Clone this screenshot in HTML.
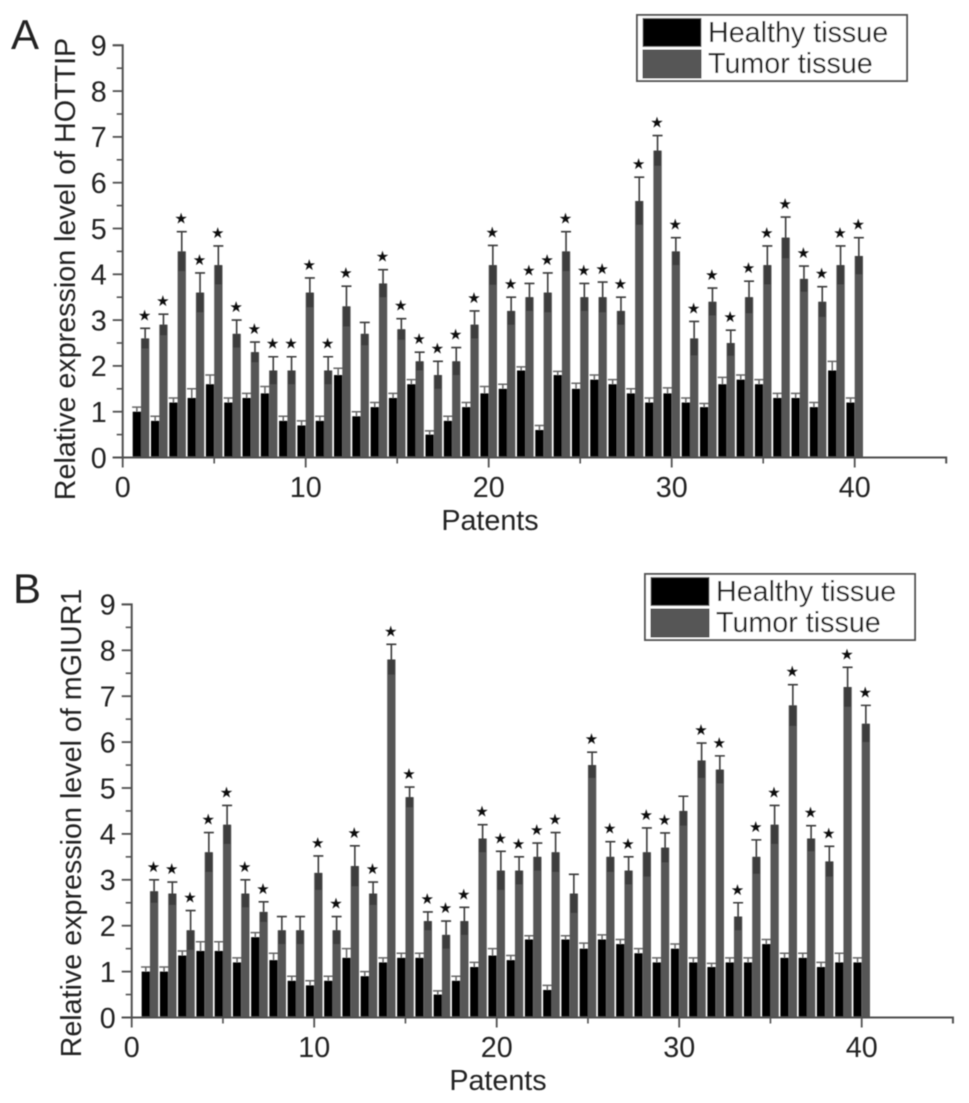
<!DOCTYPE html>
<html>
<head>
<meta charset="utf-8">
<title>Relative expression of HOTTIP and mGIUR1</title>
<style>
html,body{margin:0;padding:0;background:#fff;}
svg{display:block;}
text{font-family:"Liberation Sans",sans-serif;fill:#222;}
</style>
</head>
<body>
<svg id="figure" width="969" height="1103" viewBox="0 0 969 1103" xmlns="http://www.w3.org/2000/svg">
<defs><filter id="soft" x="-2%" y="-2%" width="104%" height="104%"><feGaussianBlur stdDeviation="0.65"/></filter></defs>
<rect width="969" height="1103" fill="#fff"/>
<g id="root" filter="url(#soft)"></g>
</svg>
<script>
const xTickLabels = [0, 10, 20, 30, 40];
const yTickLabels = [0, 1, 2, 3, 4, 5, 6, 7, 8, 9];
const patients = [1,2,3,4,5,6,7,8,9,10,11,12,13,14,15,16,17,18,19,20,21,22,23,24,25,26,27,28,29,30,31,32,33,34,35,36,37,38,39,40];

const healthyA = [1.0,0.8,1.2,1.3,1.6,1.2,1.3,1.4,0.8,0.7,0.8,1.8,0.9,1.1,1.3,1.6,0.5,0.8,1.1,1.4,1.5,1.9,0.6,1.8,1.5,1.7,1.6,1.4,1.2,1.4,1.2,1.1,1.6,1.7,1.6,1.3,1.3,1.1,1.9,1.2];
const healthyErrA = [0.1,0.1,0.1,0.2,0.2,0.1,0.1,0.15,0.1,0.1,0.1,0.15,0.1,0.1,0.1,0.1,0.08,0.1,0.1,0.15,0.1,0.08,0.1,0.08,0.12,0.1,0.1,0.1,0.1,0.12,0.1,0.08,0.15,0.1,0.1,0.1,0.1,0.1,0.2,0.1];
const tumorA = [2.6,2.9,4.5,3.6,4.2,2.7,2.3,1.9,1.9,3.6,1.9,3.3,2.7,3.8,2.8,2.1,1.8,2.1,2.9,4.2,3.2,3.5,3.6,4.5,3.5,3.5,3.2,5.6,6.7,4.5,2.6,3.4,2.5,3.5,4.2,4.8,3.9,3.4,4.2,4.4];
const tumorErrA = [0.22,0.23,0.43,0.43,0.42,0.3,0.22,0.3,0.3,0.32,0.3,0.44,0.25,0.3,0.23,0.2,0.3,0.3,0.3,0.43,0.3,0.3,0.43,0.43,0.3,0.33,0.3,0.52,0.33,0.3,0.37,0.3,0.28,0.35,0.42,0.45,0.28,0.33,0.42,0.4];
const starsA = [1,2,3,4,5,6,7,8,9,10,11,12,14,15,16,17,18,19,20,21,22,23,24,25,26,27,28,29,30,31,32,33,34,35,36,37,38,39,40];

const healthyB = [1.0,1.0,1.35,1.45,1.45,1.2,1.75,1.25,0.8,0.7,0.8,1.3,0.9,1.2,1.3,1.3,0.5,0.8,1.1,1.35,1.25,1.7,0.6,1.7,1.5,1.7,1.6,1.4,1.2,1.5,1.2,1.1,1.2,1.2,1.6,1.3,1.3,1.1,1.2,1.2];
const healthyErrB = [0.1,0.1,0.1,0.2,0.2,0.1,0.1,0.15,0.1,0.1,0.1,0.2,0.1,0.1,0.1,0.1,0.08,0.1,0.1,0.15,0.1,0.08,0.1,0.08,0.12,0.1,0.1,0.1,0.1,0.1,0.1,0.08,0.1,0.1,0.1,0.1,0.1,0.1,0.2,0.1];
const tumorB = [2.75,2.7,1.9,3.6,4.2,2.7,2.3,1.9,1.9,3.15,1.9,3.3,2.7,7.8,4.8,2.1,1.8,2.1,3.9,3.2,3.2,3.5,3.6,2.7,5.5,3.5,3.2,3.6,3.7,4.5,5.6,5.4,2.2,3.5,4.2,6.8,3.9,3.4,7.2,6.4];
const tumorErrB = [0.25,0.25,0.43,0.43,0.42,0.3,0.22,0.3,0.3,0.37,0.3,0.44,0.25,0.33,0.22,0.2,0.3,0.3,0.3,0.42,0.3,0.3,0.43,0.42,0.28,0.33,0.3,0.53,0.32,0.32,0.38,0.3,0.3,0.37,0.42,0.45,0.28,0.33,0.43,0.4];
const starsB = [1,2,3,4,5,6,7,10,11,12,13,14,15,16,17,18,19,20,21,22,23,25,26,27,28,29,31,32,33,34,35,36,37,38,39,40];

const legendLabels = ["Healthy tissue", "Tumor tissue"];

const NS = "http://www.w3.org/2000/svg";
const root = document.getElementById("root");
const AXIS = "#505050";
const FONT = 28.7;

function make(tag, attrs, parent, txt) {
  const el = document.createElementNS(NS, tag);
  for (const k in attrs) el.setAttribute(k, attrs[k]);
  if (txt !== undefined) el.textContent = txt;
  parent.appendChild(el);
  return el;
}

function drawPanel(p) {
  const sx = v => p.x0 + v * p.ux;
  const sy = v => p.y0 - v * p.uy;
  const barW = 8.3;

  const panel = make("g", {}, root);
  
  

  const letter = make("text", {x: p.letterX, y: p.letterY, "font-size": 42, fill: "#1c1c1c"}, panel, p.letter);
  
  

  patients.forEach((n, i) => {
    const h = p.healthy[i], he = p.healthyErr[i], t = p.tumor[i], te = p.tumorErr[i];
    const cx = sx(n);

    const hErr = make("path", {d: "M" + (cx - barW / 2) + " " + sy(h) + "V" + sy(h + he) + "M" + (cx - barW - 0.6) + " " + sy(h + he) + "H" + (cx + 0.6), stroke: "#666", "stroke-width": 1.5, fill: "none"}, panel);
    
    

    const hBar = make("rect", {x: cx - barW, y: sy(h), width: barW, height: p.y0 - sy(h), fill: "#000"}, panel);
    
    

    const tBar = make("rect", {x: cx, y: sy(t), width: barW, height: p.y0 - sy(t), fill: "#575757"}, panel);
    
    

    const band = make("rect", {x: cx + 0.8, y: sy(t), width: barW - 1.6, height: sy(t - te) - sy(t), fill: "#3c3c3c"}, panel);
    
    

    const mid = cx + barW / 2;
    const tErr = make("path", {d: "M" + mid + " " + sy(t) + "V" + sy(t + te) + "M" + (mid - 5) + " " + sy(t + te) + "H" + (mid + 5), stroke: "#3a3a3a", "stroke-width": 1.6, fill: "none"}, panel);
    
    

    if (p.stars.includes(n)) {
      const star = make("text", {x: mid - 0.6, y: sy(t + te) - 8, "font-size": 15, "text-anchor": "middle", style: "font-family:'DejaVu Sans',sans-serif;fill:#111"}, panel, "\u2605");
      
      
    }
  });

  const yAxis = make("path", {d: "M" + (p.x0 - 10) + " " + sy(9) + "H" + p.x0 + "V" + p.y0, stroke: AXIS, "stroke-width": 2, fill: "none"}, panel);
  
  

  const xAxis = make("path", {d: "M" + (p.x0 - 10) + " " + p.y0 + "H" + sx(45) + "V" + (p.y0 + 6), stroke: AXIS, "stroke-width": 2, fill: "none"}, panel);
  
  

  yTickLabels.forEach(v => {
    const tick = make("path", {d: "M" + (p.x0 - 10) + " " + sy(v) + "H" + p.x0, stroke: AXIS, "stroke-width": 1.8}, panel);
    
    
    if (v < 9) {
      const minor = make("path", {d: "M" + (p.x0 - 6) + " " + sy(v + 0.5) + "H" + p.x0, stroke: AXIS, "stroke-width": 1.6}, panel);
      
      
    }
    const lab = make("text", {x: p.x0 - 16, y: sy(v) + 10.3, "font-size": FONT, "text-anchor": "end"}, panel, String(v));
    
    
  });

  xTickLabels.forEach(v => {
    const tick = make("path", {d: "M" + sx(v) + " " + p.y0 + "V" + (p.y0 + 10), stroke: AXIS, "stroke-width": 1.8}, panel);
    
    
    if (v < 40) {
      const minor = make("path", {d: "M" + sx(v + 5) + " " + p.y0 + "V" + (p.y0 + 6), stroke: AXIS, "stroke-width": 1.6}, panel);
      
      
    }
    const lab = make("text", {x: sx(v), y: p.y0 + 39.5, "font-size": FONT, "text-anchor": "middle"}, panel, String(v));
    
    
  });

  const xTitle = make("text", {x: p.xTitleX, y: p.xTitleY, "font-size": FONT, "text-anchor": "middle"}, panel, "Patents");
  
  

  const yTitle = make("text", {transform: "translate(" + p.yTitleX + " " + p.yTitleY + ") rotate(-90)", "font-size": FONT, "text-anchor": "middle"}, panel, p.yTitle);
  
  

  const legend = make("g", {}, panel);
  
  
  const box = make("rect", {x: p.legX, y: p.legY, width: 270, height: 66, fill: "#fff", stroke: "#555", "stroke-width": 2}, legend);
  
  
  legendLabels.forEach((txt, i) => {
    const sw = make("rect", {x: p.legX + 6, y: p.legY + 3.5 + i * 31.5, width: 58, height: 28, fill: i ? "#575757" : "#000", stroke: "#444", "stroke-width": 1}, legend);
    
    
    const lt = make("text", {x: p.legX + 71, y: p.legY + 27 + i * 31, "font-size": FONT}, legend, txt);
    
    
  });
}

drawPanel({id: "a", letter: "A", letterX: 11, letterY: 49, x0: 122.7, y0: 457.5, ux: 18.3, uy: 45.8,
  healthy: healthyA, healthyErr: healthyErrA, tumor: tumorA, tumorErr: tumorErrA, stars: starsA,
  xTitleX: 490, xTitleY: 530, yTitleX: 75, yTitleY: 269, yTitle: "Relative expression level of HOTTIP",
  legX: 637, legY: 15});
drawPanel({id: "b", letter: "B", letterX: 13, letterY: 603, x0: 131.7, y0: 1017.5, ux: 18.25, uy: 45.9,
  healthy: healthyB, healthyErr: healthyErrB, tumor: tumorB, tumorErr: tumorErrB, stars: starsB,
  xTitleX: 498, xTitleY: 1090, yTitleX: 81, yTitleY: 823, yTitle: "Relative expression level of mGIUR1",
  legX: 645, legY: 574});
</script>
</body>
</html>
